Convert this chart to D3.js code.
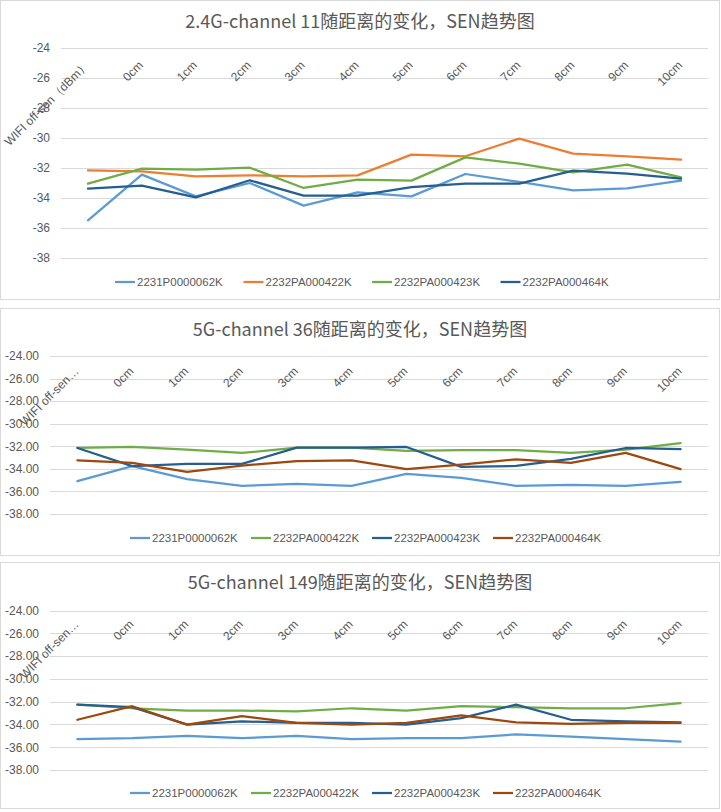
<!DOCTYPE html>
<html>
<head>
<meta charset="utf-8">
<script src="https://cdn.jsdelivr.net/npm/d3@7"></script>
<style>
  body { margin: 0; background: #fff; }
  svg { display: block; }
  text { font-family: "Liberation Sans", Arial, sans-serif; fill: #595959; }
  .title { font-family: "Noto Sans CJK SC", "Liberation Sans", sans-serif; }
</style>
</head>
<body>
<svg id="chart" width="721" height="812"></svg>
<script>
// categories (x axis)
const categories = ['WIFI off-sen（dBm）', '0cm', '1cm', '2cm', '3cm', '4cm', '5cm', '6cm', '7cm', '8cm', '9cm', '10cm'];
const categoriesShort = ['WIFI off-sen…', '0cm', '1cm', '2cm', '3cm', '4cm', '5cm', '6cm', '7cm', '8cm', '9cm', '10cm'];
const seriesNames = ['2231P0000062K', '2232PA000422K', '2232PA000423K', '2232PA000464K'];
const yTicks = [-24, -26, -28, -30, -32, -34, -36, -38];

// 2.4G channel 11
const ch11_062 = [-35.49, -32.44, -33.89, -33.0, -34.51, -33.62, -33.89, -32.4, -32.93, -33.49, -33.36, -32.84];
const ch11_422 = [-32.16, -32.22, -32.56, -32.49, -32.56, -32.49, -31.11, -31.22, -30.04, -31.04, -31.22, -31.44];
const ch11_423 = [-33.04, -32.04, -32.11, -31.98, -33.33, -32.78, -32.84, -31.29, -31.71, -32.29, -31.78, -32.62];
const ch11_464 = [-33.38, -33.18, -33.96, -32.82, -33.84, -33.84, -33.27, -33.04, -33.04, -32.18, -32.38, -32.71];

// 5G channel 36
const ch36_062 = [-35.09, -33.76, -34.91, -35.5, -35.32, -35.5, -34.44, -34.79, -35.5, -35.41, -35.5, -35.15];
const ch36_422 = [-32.15, -32.06, -32.29, -32.59, -32.12, -32.12, -32.41, -32.35, -32.35, -32.59, -32.29, -31.71];
const ch36_423 = [-32.15, -33.76, -33.56, -33.56, -32.12, -32.12, -32.06, -33.82, -33.74, -33.12, -32.15, -32.26];
const ch36_464 = [-33.24, -33.47, -34.26, -33.71, -33.32, -33.24, -34.03, -33.62, -33.15, -33.47, -32.59, -34.03];

// 5G channel 149
const ch149_062 = [-35.29, -35.2, -35.0, -35.2, -35.0, -35.29, -35.2, -35.2, -34.88, -35.08, -35.29, -35.52];
const ch149_422 = [-32.26, -32.58, -32.78, -32.78, -32.86, -32.58, -32.78, -32.4, -32.49, -32.58, -32.58, -32.14];
const ch149_423 = [-32.26, -32.49, -34.02, -33.73, -33.87, -33.87, -34.02, -33.44, -32.26, -33.59, -33.73, -33.82];
const ch149_464 = [-33.59, -32.4, -34.02, -33.27, -33.87, -34.02, -33.87, -33.21, -33.82, -33.96, -33.87, -33.87];

const svg = d3.select('#chart');

function drawChart(opt) {
    const g = svg.append('g');

    g.append('rect')
        .attr('x', 0.5).attr('y', opt.top + 0.5)
        .attr('width', 719).attr('height', opt.bottom - opt.top)
        .attr('fill', '#fff')
        .attr('stroke', '#d9d9d9');

    g.append('text')
        .attr('class', 'title')
        .attr('x', 360).attr('y', opt.titleY)
        .attr('text-anchor', 'middle')
        .style('font-size', '18px')
        .text(opt.title);

    const x = d3.scalePoint()
        .domain(d3.range(categories.length))
        .range([opt.left, opt.right])
        .padding(0.5);
    const y = d3.scaleLinear()
        .domain([-24, -38])
        .range([opt.yTop, opt.yBottom]);

    // gridlines
    g.selectAll('.grid')
        .data(yTicks)
        .join('line')
        .attr('x1', opt.left).attr('x2', opt.right)
        .attr('y1', d => Math.round(y(d)) + 0.5)
        .attr('y2', d => Math.round(y(d)) + 0.5)
        .attr('stroke', '#d9d9d9');

    const yAxis = g.append('g')
        .attr('transform', `translate(${opt.left - 8}, 0)`)
        .call(d3.axisLeft(y).tickValues(yTicks).tickSize(0)
            .tickFormat(d => d.toFixed(opt.decimals)));
    yAxis.select('.domain').remove();
    yAxis.selectAll('text')
        .attr('fill', '#595959')
        .style('font-size', '12px')
        .style('font-family', '"Liberation Sans", Arial, sans-serif');

    // category labels, rotated
    g.selectAll('.cat')
        .data(opt.labels)
        .join('text')
        .attr('text-anchor', 'end')
        .attr('transform', (d, i) => `translate(${x(i) + 2}, ${opt.labelY}) rotate(-45)`)
        .style('font-size', '12px')
        .text(d => d);

    const line = d3.line()
        .x((d, i) => x(i))
        .y(d => y(d));

    g.selectAll('.series')
        .data(opt.series)
        .join('path')
        .attr('d', d => line(d))
        .attr('fill', 'none')
        .attr('stroke', (d, i) => opt.colors[i])
        .attr('stroke-width', 2.25)
        .attr('stroke-linejoin', 'round')
        .attr('stroke-linecap', 'round');

    // legend
    const legend = g.selectAll('.legend')
        .data(seriesNames)
        .join('g')
        .attr('transform', (d, i) => `translate(${opt.legendX + i * opt.legendStep}, ${opt.legendY})`);
    legend.append('line')
        .attr('x1', 0).attr('x2', 20)
        .attr('stroke', (d, i) => opt.colors[i])
        .attr('stroke-width', 2.25);
    legend.append('text')
        .attr('x', 22).attr('y', 4)
        .style('font-size', '11.5px')
        .text(d => d);
}

drawChart({
    title: '2.4G-channel 11随距离的变化，SEN趋势图',
    top: 0, bottom: 299, titleY: 28,
    left: 61, right: 708, yTop: 48, yBottom: 258,
    decimals: 0, labels: categories, labelY: 66,
    series: [ch11_062, ch11_422, ch11_423, ch11_464],
    colors: ['#5B9BD5', '#ED7D31', '#70AD47', '#255E91'],
    legendX: 115, legendY: 282, legendStep: 128.5
});

drawChart({
    title: '5G-channel 36随距离的变化，SEN趋势图',
    top: 308, bottom: 555, titleY: 336,
    left: 50, right: 708, yTop: 356, yBottom: 514,
    decimals: 2, labels: categoriesShort, labelY: 372,
    series: [ch36_062, ch36_422, ch36_423, ch36_464],
    colors: ['#5B9BD5', '#70AD47', '#255E91', '#9E480E'],
    legendX: 130, legendY: 538, legendStep: 121
});

drawChart({
    title: '5G-channel 149随距离的变化，SEN趋势图',
    top: 562, bottom: 808, titleY: 589,
    left: 50, right: 708, yTop: 610.5, yBottom: 770,
    decimals: 2, labels: categoriesShort, labelY: 625,
    series: [ch149_062, ch149_422, ch149_423, ch149_464],
    colors: ['#5B9BD5', '#70AD47', '#255E91', '#9E480E'],
    legendX: 130, legendY: 793, legendStep: 121
});
</script>
</body>
</html>
